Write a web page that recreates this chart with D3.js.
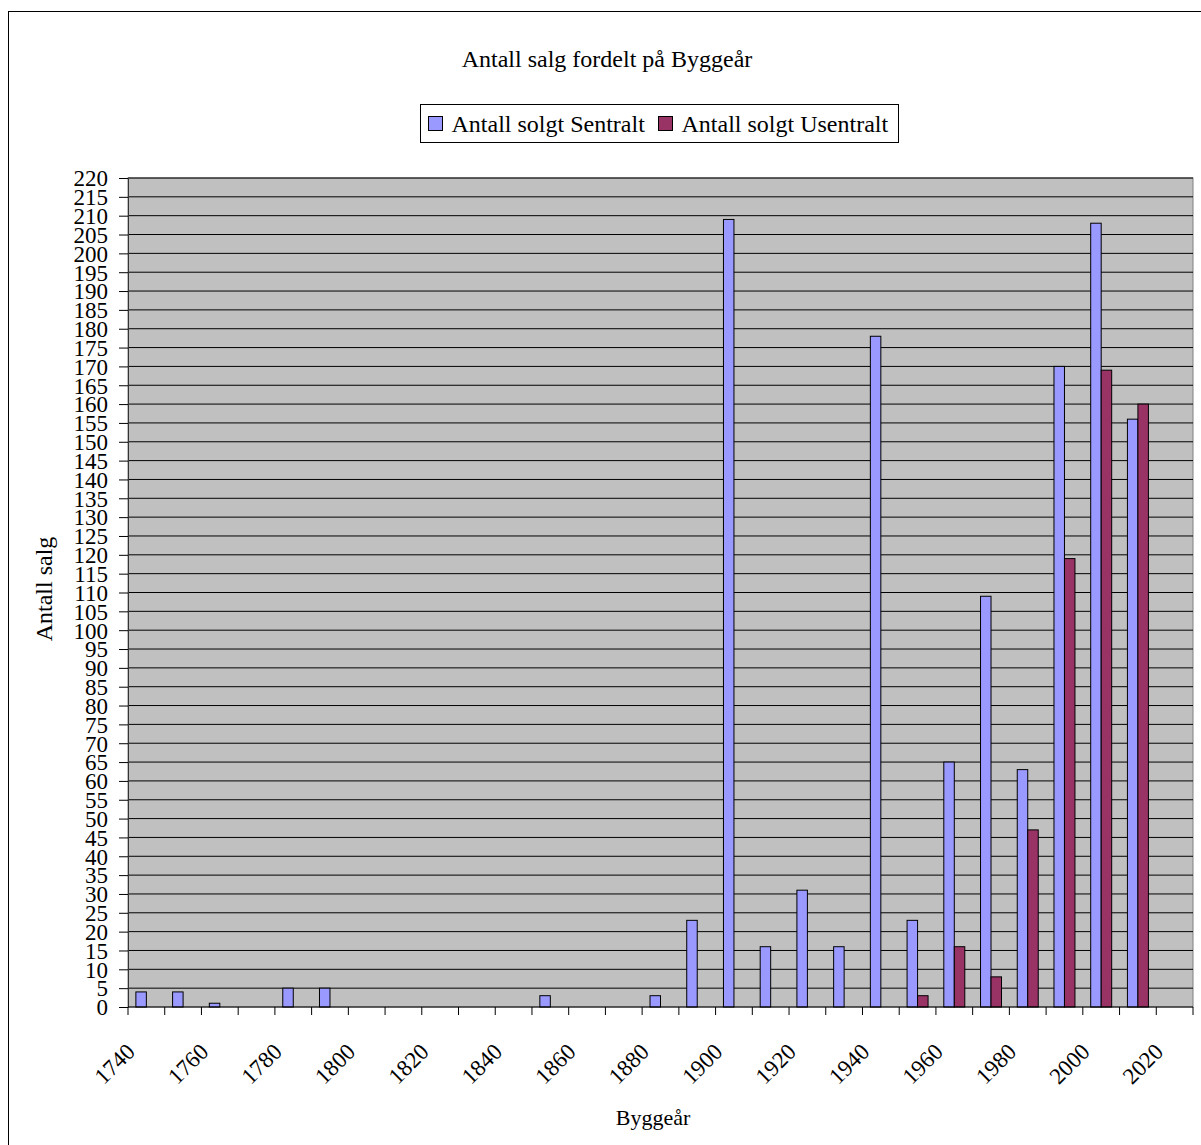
<!DOCTYPE html>
<html lang="no">
<head>
<meta charset="utf-8">
<script src="https://d3js.org/d3.v7.min.js"></script>
<style>
  body { margin: 0; background: #fff; }
  svg text { font-family: "Liberation Serif", "Times New Roman", serif; fill: #000; }
</style>
</head>
<body>
<div id="chart"></div>
<script>
  // decades on the x axis
  const years = [1740, 1750, 1760, 1770, 1780, 1790, 1800, 1810, 1820, 1830,
                 1840, 1850, 1860, 1870, 1880, 1890, 1900, 1910, 1920, 1930,
                 1940, 1950, 1960, 1970, 1980, 1990, 2000, 2010, 2020];
  const sentralt = [4, 4, 1, 0, 5, 5, 0, 0, 0, 0,
                    0, 3, 0, 0, 3, 23, 209, 16, 31, 16,
                    178, 23, 65, 109, 63, 170, 208, 156, 0];
  const usentralt = [0, 0, 0, 0, 0, 0, 0, 0, 0, 0,
                     0, 0, 0, 0, 0, 0, 0, 0, 0, 0,
                     0, 3, 16, 8, 47, 119, 169, 160, 0];
  const seriesNames = ["Antall solgt Sentralt", "Antall solgt Usentralt"];
  const seriesColors = ["#9999FF", "#993366"];
  const yTicks = d3.range(0, 225, 5);
  const xLabels = [1740, 1760, 1780, 1800, 1820, 1840, 1860, 1880, 1900,
                   1920, 1940, 1960, 1980, 2000, 2020];

  const width = 1201, height = 1145;
  const plot = { left: 128, right: 1193, top: 178, bottom: 1007 };

  const svg = d3.select("#chart").append("svg")
      .attr("width", width)
      .attr("height", height);

  // chart area border
  svg.append("rect")
      .attr("x", 8.5).attr("y", 11.5)
      .attr("width", width + 10).attr("height", height + 10)
      .attr("fill", "#fff")
      .attr("stroke", "#000");

  var x = d3.scaleBand()
      .domain(years)
      .range([plot.left, plot.right])
      .padding(0);

  var xs = d3.scaleBand()
      .domain([0, 1])
      .range([0, x.bandwidth()])
      .paddingInner(0)
      .paddingOuter(0.75);

  var y = d3.scaleLinear()
      .domain([0, 220])
      .range([plot.bottom, plot.top]);

  // plot background
  svg.append("rect")
      .attr("x", plot.left).attr("y", plot.top)
      .attr("width", plot.right - plot.left)
      .attr("height", plot.bottom - plot.top)
      .attr("fill", "#C0C0C0")
      .attr("stroke", "#808080");

  // gridlines
  svg.append("g")
      .selectAll("line")
      .data(yTicks.filter(d => d > 0))
      .join("line")
      .attr("x1", plot.left).attr("x2", plot.right)
      .attr("y1", d => y(d)).attr("y2", d => y(d))
      .attr("stroke", "#000")
      .attr("stroke-width", 1);

  // bars
  const rows = years.map((yr, i) => ({ year: yr, values: [sentralt[i], usentralt[i]] }));
  svg.append("g")
      .selectAll("g")
      .data(rows)
      .join("g")
      .attr("transform", d => "translate(" + x(d.year) + ",0)")
      .selectAll("rect")
      .data(d => d.values.map((v, s) => ({ v: v, s: s })).filter(e => e.v > 0))
      .join("rect")
      .attr("x", d => xs(d.s))
      .attr("width", xs.bandwidth())
      .attr("y", d => y(d.v))
      .attr("height", d => y(0) - y(d.v))
      .attr("fill", d => seriesColors[d.s])
      .attr("stroke", "#000")
      .attr("stroke-width", 1);

  // y axis
  var yAxis = svg.append("g")
      .attr("transform", "translate(" + plot.left + ",0)")
      .call(d3.axisLeft(y).tickValues(yTicks).tickSize(9).tickPadding(11).tickSizeOuter(0));
  yAxis.select(".domain").attr("stroke", "#333");
  yAxis.selectAll("text").style("font-size", "23px").attr("dy", "0.34em");

  // x axis: ticks at category boundaries
  var xAxis = svg.append("g");
  xAxis.append("line")
      .attr("x1", plot.left).attr("x2", plot.right)
      .attr("y1", plot.bottom).attr("y2", plot.bottom)
      .attr("stroke", "#000");
  xAxis.selectAll("line.tick")
      .data(years.concat([null]))
      .join("line")
      .attr("class", "tick")
      .attr("x1", (d, i) => plot.left + i * x.step())
      .attr("x2", (d, i) => plot.left + i * x.step())
      .attr("y1", plot.bottom).attr("y2", plot.bottom + 8)
      .attr("stroke", "#000");
  xAxis.selectAll("text")
      .data(xLabels)
      .join("text")
      .attr("transform", d => "translate(" + (x(d) + x.bandwidth() / 2 - 10) + "," + (plot.bottom + 46) + ") rotate(-45)")
      .attr("text-anchor", "end")
      .style("font-size", "23px")
      .text(d => d);

  // titles
  svg.append("text")
      .attr("x", 607).attr("y", 67)
      .attr("text-anchor", "middle")
      .style("font-size", "24px")
      .text("Antall salg fordelt på Byggeår");

  svg.append("text")
      .attr("transform", "translate(52,589) rotate(-90)")
      .attr("text-anchor", "middle")
      .style("font-size", "24px")
      .text("Antall salg");

  svg.append("text")
      .attr("x", 653).attr("y", 1125)
      .attr("text-anchor", "middle")
      .style("font-size", "22px")
      .text("Byggeår");

  // legend
  var legend = svg.append("g");
  legend.append("rect")
      .attr("x", 420.5).attr("y", 104.5)
      .attr("width", 478).attr("height", 38)
      .attr("fill", "#fff")
      .attr("stroke", "#000");
  const legX = [428.5, 658.5];
  seriesNames.forEach((name, i) => {
    legend.append("rect")
        .attr("x", legX[i]).attr("y", 116.5)
        .attr("width", 14).attr("height", 14)
        .attr("fill", seriesColors[i])
        .attr("stroke", "#000");
    legend.append("text")
        .attr("x", legX[i] + 23).attr("y", 132)
        .style("font-size", "24px")
        .text(name);
  });
</script>
</body>
</html>
